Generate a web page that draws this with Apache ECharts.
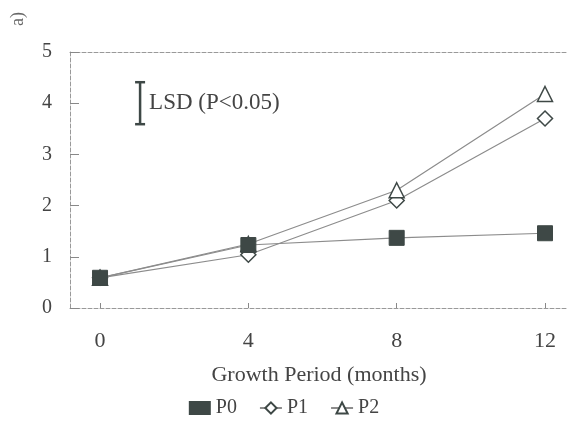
<!DOCTYPE html>
<html>
<head>
<meta charset="utf-8">
<script src="https://cdn.jsdelivr.net/npm/echarts@6/dist/echarts.min.js"></script>
<style>
  html, body { margin: 0; padding: 0; background: #fff; }
  #chart { width: 568px; height: 433px; }
</style>
</head>
<body>
<div id="chart"></div>
<script>
// growth period (months)
var months = [0, 4, 8, 12];
var p0 = [0.59, 1.23, 1.37, 1.46];
var p1 = [0.59, 1.04, 2.10, 3.70];
var p2 = [0.59, 1.25, 2.30, 4.18];
var xTicks = [0, 4, 8, 12];
var yTicks = [0, 1, 2, 3, 4, 5];
// LSD bar: [x position, low, high]
var lsd = [[1.08, 3.59, 4.41]];

var ink = '#3e4846';
var lineGray = '#8c8c8c';
var font = 'Liberation Serif';

function pairs(ys) {
  return months.map(function (m, i) { return [m, ys[i]]; });
}

var chart = echarts.init(document.getElementById('chart'));
var option = {
  animation: false,
  backgroundColor: '#fff',
  textStyle: { fontFamily: font, color: '#444' },
  grid: { left: 70, right: 0, top: 52, bottom: 125 },
  legend: {
    bottom: 10,
    left: 'center',
    itemGap: 22,
    itemWidth: 22,
    itemHeight: 14,
    textStyle: { fontFamily: font, fontSize: 20, color: '#444' },
    data: [{ name: 'P0', icon: 'rect' }, 'P1', 'P2']
  },
  graphic: [{
    type: 'text',
    left: 9,
    top: 12,
    rotation: Math.PI / 2,
    style: { text: 'a)', font: '18px ' + font, fill: '#666' }
  }],
  xAxis: [{
    type: 'value',
    min: -0.81,
    max: 12.62,
    name: 'Growth Period (months)',
    nameLocation: 'middle',
    nameGap: 56,
    nameTextStyle: { fontFamily: font, fontSize: 22, color: '#444' },
    axisLine: { show: true, onZero: false, lineStyle: { color: '#999', type: 'dashed', width: 1 } },
    axisTick: { show: true, inside: true, length: 5, customValues: xTicks, lineStyle: { color: '#888' } },
    axisLabel: { customValues: xTicks, margin: 22, fontFamily: font, fontSize: 22, color: '#444' },
    splitLine: { show: false }
  }, {
    type: 'value',
    position: 'top',
    min: -0.81,
    max: 12.62,
    axisLine: { show: true, onZero: false, lineStyle: { color: '#999', type: 'dashed', width: 1 } },
    axisTick: { show: false },
    axisLabel: { show: false },
    splitLine: { show: false }
  }],
  yAxis: {
    type: 'value',
    min: 0,
    max: 5,
    interval: 1,
    axisLine: { show: true, onZero: false, lineStyle: { color: '#999', type: 'dashed', width: 1 } },
    axisTick: { show: true, inside: true, length: 9, customValues: yTicks, lineStyle: { color: '#888' } },
    axisLabel: { customValues: yTicks, margin: 18, fontFamily: font, fontSize: 20, color: '#444' },
    splitLine: { show: false }
  },
  series: [{
    name: 'P0',
    type: 'line',
    data: pairs(p0),
    symbol: 'rect',
    symbolSize: 15,
    itemStyle: { color: ink, borderColor: ink },
    lineStyle: { color: lineGray, width: 1.2 },
    z: 6
  }, {
    name: 'P1',
    type: 'line',
    data: pairs(p1),
    symbol: 'diamond',
    symbolSize: 15,
    itemStyle: { color: '#fff', borderColor: ink, borderWidth: 1.5 },
    lineStyle: { color: lineGray, width: 1.2 },
    z: 4
  }, {
    name: 'P2',
    type: 'line',
    data: pairs(p2),
    symbol: 'triangle',
    symbolSize: 15,
    itemStyle: { color: '#fff', borderColor: ink, borderWidth: 1.5 },
    lineStyle: { color: lineGray, width: 1.2 },
    z: 5
  }, {
    type: 'custom',
    data: lsd,
    silent: true,
    renderItem: function (params, api) {
      var top = api.coord([api.value(0), api.value(2)]);
      var bot = api.coord([api.value(0), api.value(1)]);
      var cap = 5;
      var st = { stroke: ink, lineWidth: 2.5 };
      return {
        type: 'group',
        children: [
          { type: 'line', shape: { x1: top[0], y1: top[1], x2: bot[0], y2: bot[1] }, style: st },
          { type: 'line', shape: { x1: top[0] - cap, y1: top[1], x2: top[0] + cap, y2: top[1] }, style: st },
          { type: 'line', shape: { x1: bot[0] - cap, y1: bot[1], x2: bot[0] + cap, y2: bot[1] }, style: st },
          {
            type: 'text',
            x: top[0] + 9,
            y: (top[1] + bot[1]) / 2,
            style: { text: 'LSD (P<0.05)', font: '23px ' + font, fill: '#444', verticalAlign: 'middle' }
          }
        ]
      };
    }
  }]
};
chart.setOption(option);
</script>
</body>
</html>
